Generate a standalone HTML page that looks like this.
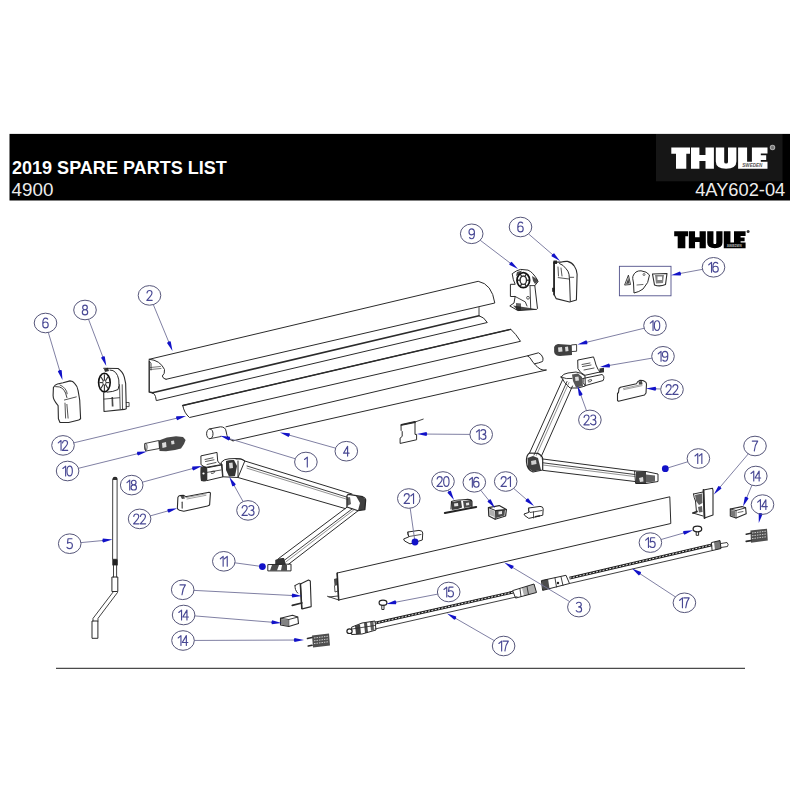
<!DOCTYPE html>
<html><head><meta charset="utf-8"><style>
html,body{margin:0;padding:0;background:#fff;}
body{width:800px;height:800px;overflow:hidden;position:relative;}
svg{position:absolute;left:0;top:0;}
text{font-family:"Liberation Sans",sans-serif;}
</style></head><body>
<svg width="800" height="800" viewBox="0 0 800 800">
<rect x="0" y="0" width="800" height="800" fill="#fff"/>

<rect x="9.5" y="133.9" width="780.5" height="66.6" fill="#000"/>
<rect x="656" y="134" width="126.5" height="47.3" fill="#161616"/>
<text x="12" y="173.5" font-size="18.05" font-weight="bold" fill="#fff">2019 SPARE PARTS LIST</text>
<text x="11.6" y="196" font-size="18.8" fill="#ececec">4900</text>
<text x="785.3" y="196.2" font-size="18.3" fill="#ececec" text-anchor="end">4AY602-04</text>
<g transform="translate(671.3,147.6) scale(1.0,1.0)"><path d="M0,0 H18.7 V6.1 H0 Z M4.7,6.1 H15.0 V21.1 H4.7 Z M19.7,0 H28.1 V21.1 H19.7 Z M34.2,0 H42.6 V21.1 H34.2 Z M28.1,7.4 H34.2 V13.5 H28.1 Z M44.5,0 H52.9 V14.5 Q52.9,16 54.8,16 Q56.7,16 56.7,14.5 V0 H65.1 V14 Q65.1,21.1 54.8,21.1 Q44.5,21.1 44.5,14 Z M66.8,0 H75.8 V21.1 H66.8 Z M75.8,14.1 H96.2 V21.1 H75.8 Z M80.6,0 H89.5 V14.1 H80.6 Z M89.5,0 H96.2 V5.8 H89.5 Z M89.5,7.6 H94.9 V12.3 H89.5 Z" fill="#fff"/><text x="71" y="19.4" font-size="4.6" font-weight="bold" font-style="italic" fill="#555" textLength="20" lengthAdjust="spacingAndGlyphs">SWEDEN</text></g>
<circle cx="772.5" cy="147.5" r="2.2" fill="#777" stroke="#aaa" stroke-width="1.1"/>
<g transform="translate(674.2,231.3) scale(0.742,0.8)"><path d="M0,0 H18.7 V6.1 H0 Z M4.7,6.1 H15.0 V21.1 H4.7 Z M19.7,0 H28.1 V21.1 H19.7 Z M34.2,0 H42.6 V21.1 H34.2 Z M28.1,7.4 H34.2 V13.5 H28.1 Z M44.5,0 H52.9 V14.5 Q52.9,16 54.8,16 Q56.7,16 56.7,14.5 V0 H65.1 V14 Q65.1,21.1 54.8,21.1 Q44.5,21.1 44.5,14 Z M66.8,0 H75.8 V21.1 H66.8 Z M75.8,14.1 H96.2 V21.1 H75.8 Z M80.6,0 H89.5 V14.1 H80.6 Z M89.5,0 H96.2 V5.8 H89.5 Z M89.5,7.6 H94.9 V12.3 H89.5 Z" fill="#000"/><text x="71" y="19.4" font-size="4.6" font-weight="bold" font-style="italic" fill="#bbb" textLength="20" lengthAdjust="spacingAndGlyphs">SWEDEN</text></g>
<circle cx="748.1" cy="231.6" r="1.5" fill="#333"/>
<path d="M149.2,359.3 L478.2,281.3 Q492,284 494.8,303 L166,379.3" stroke="#2b2b2b" stroke-width="1.0" fill="none" stroke-linejoin="round" stroke-linecap="round" />
<path d="M149.2,359.3 Q160,360 164.5,369.5 Q165,374 162.3,376 Q163,379 166,379.3" stroke="#2b2b2b" stroke-width="1.0" fill="none" stroke-linejoin="round" stroke-linecap="round" />
<path d="M150.5,367.5 L160.5,366.5 M150.5,369.5 L161,368.5" stroke="#555" stroke-width="0.8" fill="none" stroke-linejoin="round" stroke-linecap="round" />
<path d="M149.2,361 L151,363.5 L151,370" stroke="#2b2b2b" stroke-width="0.9" fill="none" stroke-linejoin="round" stroke-linecap="round" />
<path d="M149.2,361 L149.2,392 L152.5,392.8" stroke="#2b2b2b" stroke-width="1.4" fill="none" stroke-linejoin="round" stroke-linecap="round" />
<path d="M152.5,392.8 Q155,394 155.5,396.5 L156.3,400.6 L487.3,322.5 L483.5,318 L479,315.8" stroke="#2b2b2b" stroke-width="1.0" fill="none" stroke-linejoin="round" stroke-linecap="round" />
<line x1="152.5" y1="392.8" x2="479" y2="315.8" stroke="#2b2b2b" stroke-width="1.5" stroke-linecap="round"/>
<line x1="479" y1="307.5" x2="479" y2="315.5" stroke="#2b2b2b" stroke-width="0.9" stroke-linecap="round"/>
<path d="M182.8,405.5 L510.8,329.3 Q516,334 520.5,341.3 L189.5,417.5 Q184,413 182.8,405.5 Z" stroke="#2b2b2b" stroke-width="1.0" fill="none" stroke-linejoin="round" stroke-linecap="round" />
<line x1="182.8" y1="405.5" x2="510.8" y2="329.3" stroke="#2b2b2b" stroke-width="1.3" stroke-linecap="round"/>
<path d="M226,426.8 L527.5,355.8 L538.5,352.8 Q542,354.5 543,358 Q543,361 542.5,361.5 Q539,363 534.5,363.8" stroke="#2b2b2b" stroke-width="1.0" fill="none" stroke-linejoin="round" stroke-linecap="round" />
<path d="M527.5,355.8 Q530,357 531.5,360 Q533,363 534.5,363.8 Q536,366 537.5,367 Q540,369.5 543,370 L546.5,370 L233,440.8" stroke="#2b2b2b" stroke-width="1.0" fill="none" stroke-linejoin="round" stroke-linecap="round" />
<ellipse cx="209.8" cy="433.8" rx="3.2" ry="4.9" fill="none" stroke="#2b2b2b" stroke-width="1"/>
<path d="M209.8,428.9 L220.5,426.8 Q225.5,427 226,431 Q226.5,436 229,439 L233,440.8" stroke="#2b2b2b" stroke-width="1.0" fill="none" stroke-linejoin="round" stroke-linecap="round" />
<path d="M209.8,438.7 L221,436.5" stroke="#2b2b2b" stroke-width="0.9" fill="none" stroke-linejoin="round" stroke-linecap="round" />
<path d="M337.3,573 L669.8,496.8 L670.8,523.5 L338.8,600 Z" stroke="#2b2b2b" stroke-width="1.0" fill="none" stroke-linejoin="round" stroke-linecap="round" />
<path d="M337.3,573 L338.8,600" stroke="#2b2b2b" stroke-width="1.3" fill="none" stroke-linejoin="round" stroke-linecap="round" />
<path d="M327.5,596.3 L338.8,600 M329,597 L338,596" stroke="#2b2b2b" stroke-width="0.9" fill="none" stroke-linejoin="round" stroke-linecap="round" />
<path d="M334,579 L337.5,578 L337.8,585 L334.5,586 Z" fill="#1e1e1e" opacity="0.8"/>
<path d="M334.5,586 L335,592 L337.8,591" stroke="#2b2b2b" stroke-width="0.8" fill="none" stroke-linejoin="round" stroke-linecap="round" />
<line x1="375" y1="623.2" x2="513" y2="592.2" stroke="#1c1c1c" stroke-width="2.9"/>
<line x1="375" y1="623.2" x2="513" y2="592.2" stroke="#e0e0e0" stroke-width="1.0" stroke-dasharray="2.0,1.4"/>
<path d="M375,629 L517,596.8" stroke="#2b2b2b" stroke-width="0.9" fill="none" stroke-linejoin="round" stroke-linecap="round" />
<path d="M352,627 L362,623 L375,621 L376,630 L362,634 L352,634.5 Z" stroke="#2b2b2b" stroke-width="1.0" fill="none" stroke-linejoin="round" stroke-linecap="round" />
<path d="M355,625.8 L360,624.5 L361,633.8 L356,634.3 Z" fill="#1e1e1e" opacity="0.85"/>
<path d="M364,623.2 L367,622.6 L368,632.5 L365,633 Z" fill="#1e1e1e" opacity="0.8"/>
<path d="M370,622 L373.5,621.4 L374,630 L371,630.8 Z" fill="#1e1e1e" opacity="0.7"/>
<path d="M352,629 L375,625.5" stroke="#2b2b2b" stroke-width="0.8" fill="none" stroke-linejoin="round" stroke-linecap="round" />
<ellipse cx="349.5" cy="631.2" rx="2.6" ry="2.3" fill="#fff" stroke="#222" stroke-width="1.2"/>
<path d="M513,590.5 L534,584 L536.5,592.5 L516,598 Z" stroke="#2b2b2b" stroke-width="1.0" fill="none" stroke-linejoin="round" stroke-linecap="round" />
<path d="M522,588 L534,584 L536.5,592.5 L524,596 Z" fill="#1e1e1e" opacity="0.35"/>
<path d="M520,589 L521,596.5 M527,586.5 L528.5,594.5" stroke="#2b2b2b" stroke-width="0.9" fill="none" stroke-linejoin="round" stroke-linecap="round" />
<path d="M541.8,580.5 L566,575.3 L569.5,583.5 L543,590.3 Z" stroke="#2b2b2b" stroke-width="1.0" fill="none" stroke-linejoin="round" stroke-linecap="round" />
<path d="M541.8,580.5 L548,579 L549.5,588.5 L543,590.3 Z" fill="#1e1e1e" opacity="0.8"/>
<path d="M555,578 L556.5,587 M561,576.8 L563,585.5" stroke="#2b2b2b" stroke-width="0.9" fill="none" stroke-linejoin="round" stroke-linecap="round" />
<circle cx="558" cy="583" r="1.2" fill="#222"/>
<line x1="569.5" y1="578.2" x2="712" y2="544.8" stroke="#1c1c1c" stroke-width="2.9"/>
<line x1="569.5" y1="578.2" x2="712" y2="544.8" stroke="#e0e0e0" stroke-width="1.0" stroke-dasharray="2.0,1.4"/>
<path d="M569.5,583.5 L712.5,550.5" stroke="#2b2b2b" stroke-width="0.9" fill="none" stroke-linejoin="round" stroke-linecap="round" />
<path d="M711.8,542.5 L720,540.5 L721,548.5 L712.5,550.5 Z" stroke="#2b2b2b" stroke-width="1.0" fill="none" stroke-linejoin="round" stroke-linecap="round" />
<path d="M714,542 L720,540.5 L721,548.5 L715,550 Z" fill="#1e1e1e" opacity="0.6"/>
<path d="M721,543.5 L727,542.5 Q729,544.5 727.5,546.5 L721,547.5" stroke="#2b2b2b" stroke-width="0.9" fill="none" stroke-linejoin="round" stroke-linecap="round" />
<path d="M201.3,455.8 L217,452.4 L217.7,461 Q218.5,463.5 222.3,464.8 L206,468 L201.3,464.8 Z" stroke="#2b2b2b" stroke-width="1.0" fill="none" stroke-linejoin="round" stroke-linecap="round" />
<path d="M205,459.5 L213,457.8 M205.5,461.5 L214,459.8 M207,464.5 L216,462.5" stroke="#2b2b2b" stroke-width="0.8" fill="none" stroke-linejoin="round" stroke-linecap="round" />
<path d="M205,467.5 L222,464.5 L223,476.8 L207.3,480.5" stroke="#2b2b2b" stroke-width="1.0" fill="none" stroke-linejoin="round" stroke-linecap="round" />
<path d="M200.5,468 Q200,466.5 203,466.3 L206,466.5 Q207.5,468 207.3,472 L207.3,480.5 Q205,482 201,481 Q200,476 200.5,468 Z" fill="#1e1e1e" opacity="0.9"/>
<path d="M207.3,472.3 L221,470 M211,472 Q213,470.5 215,471.5 Q214,474 211.5,473.5" stroke="#2b2b2b" stroke-width="0.8" fill="none" stroke-linejoin="round" stroke-linecap="round" />
<circle cx="203.5" cy="473.5" r="1.1" fill="#fff"/>
<path d="M221.5,462 Q224,459 229,458.8 L236,458.5 Q241,458.3 244.8,461 L238,477.5 L223,476.8 Z" stroke="#2b2b2b" stroke-width="1.0" fill="none" stroke-linejoin="round" stroke-linecap="round" />
<path d="M226,461 Q230,459.5 234,460 L237,466 L235,476 L229,476.5 L226,470 Z" fill="#1e1e1e" opacity="0.9"/>
<path d="M229,463 L232.5,462.5 L233,468 L229.5,468.5 Z" fill="#fff" opacity="0.8"/>
<path d="M236,459 Q243,458 244.8,461 M238,461 L238,477.5" stroke="#2b2b2b" stroke-width="1.0" fill="none" stroke-linejoin="round" stroke-linecap="round" />
<path d="M244.8,461 L352,494" stroke="#2b2b2b" stroke-width="1.0" fill="none" stroke-linejoin="round" stroke-linecap="round" />
<path d="M238,477.5 L345.3,508.6" stroke="#2b2b2b" stroke-width="1.0" fill="none" stroke-linejoin="round" stroke-linecap="round" />
<path d="M247,466 L348,497.5" stroke="#2b2b2b" stroke-width="0.9" fill="none" stroke-linejoin="round" stroke-linecap="round" />
<path d="M247,468.2 L348,499.6" stroke="#666" stroke-width="0.7" fill="none" stroke-linejoin="round" stroke-linecap="round" />
<path d="M346.9,496 Q347.5,494.4 348.6,494.4 L362.6,496.7 Q365.7,498 365.7,500 L364.9,509.6 L358.1,510.75 L346.9,507 Z" stroke="#2b2b2b" stroke-width="1.2" fill="none" stroke-linejoin="round" stroke-linecap="round" />
<path d="M348,495 L356,496 L360,503 L358,510.5 L362,510 L364.9,509.6 L365.7,500 L362.6,496.7 Z" fill="#1e1e1e" opacity="0.85"/>
<path d="M347,498 L350,497 L351,504 L347,506 Z" fill="#1e1e1e" opacity="0.7"/>
<path d="M347,507.2 L278.6,558.5" stroke="#2b2b2b" stroke-width="1.0" fill="none" stroke-linejoin="round" stroke-linecap="round" />
<path d="M358.1,510.75 L288.75,564.1" stroke="#2b2b2b" stroke-width="1.0" fill="none" stroke-linejoin="round" stroke-linecap="round" />
<path d="M352,509 L284,560.5" stroke="#2b2b2b" stroke-width="0.9" fill="none" stroke-linejoin="round" stroke-linecap="round" />
<path d="M354,509.8 L286,561.8" stroke="#666" stroke-width="0.7" fill="none" stroke-linejoin="round" stroke-linecap="round" />
<path d="M268.2,564.6 L291,564.1 L291,570.9 L268.2,570.9 Z" stroke="#2b2b2b" stroke-width="1.0" fill="none" stroke-linejoin="round" stroke-linecap="round" />
<path d="M275.25,560 Q279,557.5 284,558 L286,564.7 L275.25,564.7 Z" fill="#1e1e1e" opacity="0.9"/>
<path d="M272,565 L279,565 L277,570.5 L270,570.5 Z M282,565 L287,565 L287,570.5 L281,570.5 Z" fill="#1e1e1e" opacity="0.8"/>
<path d="M578.1,360 L593.5,356.9 Q595,361 596,365 Q598,370 600,372 L585,375.3 Q580,373 578.1,369 Z" stroke="#2b2b2b" stroke-width="1.0" fill="none" stroke-linejoin="round" stroke-linecap="round" />
<path d="M582,364.5 L590,363 M582.5,366.5 L591,365 M584,370 L594,368" stroke="#2b2b2b" stroke-width="0.8" fill="none" stroke-linejoin="round" stroke-linecap="round" />
<path d="M599.5,368.5 L604,367.8 L604,372.3 L599.5,373 Z" fill="#1e1e1e" opacity="0.9"/>
<path d="M583,378.5 L602,374.5 Q605,376 603.2,380.5 L585,385.7 Q582.2,383 583,378.5 Z" stroke="#2b2b2b" stroke-width="1.0" fill="none" stroke-linejoin="round" stroke-linecap="round" />
<path d="M588,380.5 Q590,379 592,380 Q591,382.5 588.5,382" stroke="#2b2b2b" stroke-width="0.8" fill="none" stroke-linejoin="round" stroke-linecap="round" />
<path d="M561.2,377 Q563,373.5 568,373 L576,372 Q581,372.5 585,376 L585.3,386 L578,388 L570,388 Q564,383 561.2,377 Z" stroke="#2b2b2b" stroke-width="1.0" fill="none" stroke-linejoin="round" stroke-linecap="round" />
<path d="M572,374.5 L578,373.5 L582,377 L583,386 L576,387.5 L573,381 Z" fill="#1e1e1e" opacity="0.75"/>
<path d="M575,377 L578.5,376.5 L579,380.5 L575.5,381 Z" fill="#fff" opacity="0.8"/>
<path d="M561.2,377 Q566,379.5 572,378.5" stroke="#2b2b2b" stroke-width="0.9" fill="none" stroke-linejoin="round" stroke-linecap="round" />
<path d="M562.9,379 L529.5,453.1" stroke="#2b2b2b" stroke-width="1.0" fill="none" stroke-linejoin="round" stroke-linecap="round" />
<path d="M572.5,386 L541.1,456.8" stroke="#2b2b2b" stroke-width="1.0" fill="none" stroke-linejoin="round" stroke-linecap="round" />
<path d="M567,381.5 L534,455" stroke="#2b2b2b" stroke-width="0.9" fill="none" stroke-linejoin="round" stroke-linecap="round" />
<path d="M569,382.5 L536.3,455.5" stroke="#666" stroke-width="0.7" fill="none" stroke-linejoin="round" stroke-linecap="round" />
<path d="M526.5,462 Q526.1,455 529.5,453 L538,453.4 Q542.7,456 542.7,459 L542.7,470 L533,472 Q527,470 526.5,462 Z" stroke="#2b2b2b" stroke-width="1.2" fill="none" stroke-linejoin="round" stroke-linecap="round" />
<path d="M527.5,458 L533,456 L538,458 L541,470 L533,471.5 L528,468 Z" fill="#1e1e1e" opacity="0.85"/>
<path d="M531,461 L536,460 L536.5,464 L531.5,465 Z" fill="#fff" opacity="0.75"/>
<path d="M542.1,458.9 L635,471" stroke="#2b2b2b" stroke-width="1.0" fill="none" stroke-linejoin="round" stroke-linecap="round" />
<path d="M543.2,470.4 L635,481.5" stroke="#2b2b2b" stroke-width="1.0" fill="none" stroke-linejoin="round" stroke-linecap="round" />
<path d="M543,462.8 L635,474.5" stroke="#2b2b2b" stroke-width="0.9" fill="none" stroke-linejoin="round" stroke-linecap="round" />
<path d="M543,465 L635,476.6" stroke="#666" stroke-width="0.7" fill="none" stroke-linejoin="round" stroke-linecap="round" />
<path d="M635,471 L646,471.5 L658,474 L658,481.5 L646,483.5 L636,483.5 Z" stroke="#2b2b2b" stroke-width="1.0" fill="none" stroke-linejoin="round" stroke-linecap="round" />
<path d="M636,471.5 L646,471.5 L646,483.5 L636,483.5 Z" fill="#1e1e1e" opacity="0.85"/>
<path d="M646,474.5 L655,475.5 L655,481.5 L646,482.5 Z" fill="#1e1e1e" opacity="0.7"/>
<path d="M639,478 L643,477 L643.5,481.5 L640,482 Z" fill="#fff" opacity="0.8"/>
<path d="M113,478.4 Q115,476.5 117.1,478.4 L117.1,559.3 L113,559.3 Z" stroke="#2b2b2b" stroke-width="0.9" fill="none" stroke-linejoin="round" stroke-linecap="round" />
<path d="M113,477.5 Q115,476 117.1,477.5 L117.1,480 L113,480 Z" fill="#1e1e1e" opacity="0.9"/>
<rect x="112.3" y="559.3" width="5.5" height="6.1" fill="#222"/>
<path d="M113.5,565.4 L113.5,577 M116.6,565.4 L116.6,577" stroke="#2b2b2b" stroke-width="0.9" fill="none" stroke-linejoin="round" stroke-linecap="round" />
<path d="M112.3,577 L117.8,577 L117.8,591.5 L112.3,591.5 Z" stroke="#2b2b2b" stroke-width="1.0" fill="none" stroke-linejoin="round" stroke-linecap="round" />
<path d="M113.5,591.5 L93,618.4 L93,621 M117.5,592.5 L98,618.4 L98,621" stroke="#2b2b2b" stroke-width="0.9" fill="none" stroke-linejoin="round" stroke-linecap="round" />
<path d="M92.4,621 L97.9,621 L97.9,638.3 L92.4,638.3 Z" stroke="#2b2b2b" stroke-width="1.0" fill="none" stroke-linejoin="round" stroke-linecap="round" />
<path d="M58.1,405.6 Q53,400 53.1,395.6 L53.4,387.5 Q55,384.5 57.5,384 L63.1,382.8 L70,380.9 Q73,381 74.4,383.1 Q77.5,386 78.1,390.6 L79.7,400 L80.6,418.75 L78.75,420 L68.75,422.5 L60,422.5 L58.4,418.75 Z" stroke="#2b2b2b" stroke-width="1.1" fill="none" stroke-linejoin="round" stroke-linecap="round" />
<path d="M55.6,386.6 Q60,386.5 61.9,388.1 Q64.5,390 65.6,393.1 L66.9,397.5" stroke="#2b2b2b" stroke-width="0.9" fill="none" stroke-linejoin="round" stroke-linecap="round" />
<path d="M60,385 Q63,386 65,388.75 Q67,391 67.2,393.75" stroke="#2b2b2b" stroke-width="0.8" fill="none" stroke-linejoin="round" stroke-linecap="round" />
<path d="M64.4,400 L76.25,396.9 M65,403.1 L65.6,418.1 M66.9,404.4 L68.1,418.1" stroke="#2b2b2b" stroke-width="0.8" fill="none" stroke-linejoin="round" stroke-linecap="round" />
<path d="M103.7,368.2 L118.1,368.5 Q123,372 124.3,377.1 L125.65,383.3 L126.3,408.7 L124.3,409.4 L104,411.45 L103.7,392.9" stroke="#2b2b2b" stroke-width="1.1" fill="none" stroke-linejoin="round" stroke-linecap="round" />
<path d="M110,370 Q117,370 118.8,379.9 Q119.5,386 118.1,389.5 Q113,392 107.1,392.2" stroke="#2b2b2b" stroke-width="1.0" fill="none" stroke-linejoin="round" stroke-linecap="round" />
<path d="M104,399.1 L119.5,397.7 M119.5,384.7 L120.2,408.7 M122.2,384.7 L122.5,408.7 M126.3,402.5 L129.1,402.5 L129.1,406.6 L126.3,406.6" stroke="#2b2b2b" stroke-width="0.8" fill="none" stroke-linejoin="round" stroke-linecap="round" />
<ellipse cx="104.4" cy="382.6" rx="5.8" ry="9.3" fill="#fff" stroke="#111" stroke-width="1.6"/>
<g stroke="#333" stroke-width="1.1"><line x1="104.4" y1="382.6" x2="109.40" y2="382.60"/><line x1="104.4" y1="382.6" x2="107.94" y2="388.54"/><line x1="104.4" y1="382.6" x2="104.40" y2="391.00"/><line x1="104.4" y1="382.6" x2="100.86" y2="388.54"/><line x1="104.4" y1="382.6" x2="99.40" y2="382.60"/><line x1="104.4" y1="382.6" x2="100.86" y2="376.66"/><line x1="104.4" y1="382.6" x2="104.40" y2="374.20"/><line x1="104.4" y1="382.6" x2="107.94" y2="376.66"/></g>
<ellipse cx="104.4" cy="382.6" rx="1.6" ry="2.4" fill="#fff" stroke="#333" stroke-width="0.8"/>
<path d="M104,369 L108,367.8 L109,371 L105,372 Z" fill="#1e1e1e" opacity="0.9"/>
<path d="M111.5,397 L113,397 L113.5,406.6 L111.8,406.6 Z" fill="#1e1e1e" opacity="0.8"/>
<path d="M512.5,273.5 Q516,270.5 520.6,269.4 L528,270.1 Q531,271.5 532.7,273.5 Q535,276 536.8,278.9 L538.1,281.6 L534.8,285.6 L537.5,308.6 L536.8,309.3 L517.9,310.6 L509.8,305.9 L514,303 L515.2,296.5 L510.4,296.5 L510.4,284.3 L515.2,284.3 L513.5,280 Z" stroke="#2b2b2b" stroke-width="1.0" fill="none" stroke-linejoin="round" stroke-linecap="round" />
<ellipse cx="523.3" cy="280.2" rx="6.3" ry="7.5" fill="none" stroke="#111" stroke-width="1.8"/>
<ellipse cx="523.3" cy="280.2" rx="3.2" ry="4.2" fill="none" stroke="#333" stroke-width="1.4"/>
<g stroke="#222" stroke-width="1.2"><line x1="526.50" y1="280.20" x2="529.60" y2="280.20"/><line x1="524.90" y1="283.84" x2="526.45" y2="286.70"/><line x1="521.70" y1="283.84" x2="520.15" y2="286.70"/><line x1="520.10" y1="280.20" x2="517.00" y2="280.20"/><line x1="521.70" y1="276.56" x2="520.15" y2="273.70"/><line x1="524.90" y1="276.56" x2="526.45" y2="273.70"/></g>
<path d="M513,305.5 L530,308 L536.8,309.3 L517.9,310.6 Z" fill="#1e1e1e" opacity="0.8"/>
<path d="M515.2,296.5 L525.3,301.9 L527,306 M530,285.6 L530.7,308.6 M534.8,285.6 L530,285.6" stroke="#2b2b2b" stroke-width="0.9" fill="none" stroke-linejoin="round" stroke-linecap="round" />
<circle cx="528" cy="297.8" r="1.4" fill="none" stroke="#333" stroke-width="0.8"/>
<path d="M516,303 L521,303.5 L521,310 L516,310 Z" fill="#1e1e1e" opacity="0.7"/>
<path d="M517,272 L522,270.5 L520,274 L516,276 Z" fill="#1e1e1e" opacity="0.8"/>
<path d="M532,276 L536.8,279 L538,281.6 L535,284 L533,281 Z" fill="#1e1e1e" opacity="0.8"/>
<path d="M554.1,262.1 L561.5,262.1 Q564,261.2 567.6,261.4 Q572,262.5 574.4,266.2 Q577,270 577.1,274.3 L576.4,300 L569.6,302 L556.1,298.6 L554.1,294.5 Z" stroke="#2b2b2b" stroke-width="1.1" fill="none" stroke-linejoin="round" stroke-linecap="round" />
<path d="M554.1,262.1 L554.1,294.5" stroke="#2b2b2b" stroke-width="1.8" fill="none" stroke-linejoin="round" stroke-linecap="round" />
<path d="M559.5,263.5 Q563.5,265 565.6,268.2 Q568.5,271 569,274.3 L569.6,281 L570.3,301.3" stroke="#2b2b2b" stroke-width="1.0" fill="none" stroke-linejoin="round" stroke-linecap="round" />
<path d="M558.2,277.6 L569,279 M570.3,277.3 L573.7,277.3 M558,267 L558.5,276 M561,268 L562,276" stroke="#2b2b2b" stroke-width="0.8" fill="none" stroke-linejoin="round" stroke-linecap="round" />
<path d="M552.1,287.8 L554.8,287.8 L554.8,291.8 L552.1,291.8 Z" fill="#1e1e1e" opacity="0.9"/>
<path d="M553.5,260.5 L557,260.5 L557,264 L553.5,264 Z" fill="#1e1e1e" opacity="0.9"/>
<rect x="619.4" y="266.3" width="51.6" height="29.5" fill="none" stroke="#50508a" stroke-width="0.9"/>
<path d="M625,285 L630.5,284.5 L628.5,275.5 Z" stroke="#2b2b2b" stroke-width="0.9" fill="none" stroke-linejoin="round" stroke-linecap="round" />
<path d="M626,284 L629.5,283.5 L628.3,278 Z" fill="#1e1e1e" opacity="0.8"/>
<path d="M633,276 Q635,270.5 641,270.8 Q647,271.5 649.5,275 Q649,283 643,289 Q639,292 634,293 L633.5,283 L632.8,279 Z" stroke="#2b2b2b" stroke-width="1.0" fill="none" stroke-linejoin="round" stroke-linecap="round" />
<path d="M637,285 L643,284.5" stroke="#2b2b2b" stroke-width="0.7" fill="none" stroke-linejoin="round" stroke-linecap="round" />
<circle cx="644" cy="274.5" r="1" fill="none" stroke="#333" stroke-width="0.7"/>
<path d="M652.5,274 L667,273.5 L665.5,284.5 Q660,287 654.5,285 Z" stroke="#2b2b2b" stroke-width="1.1" fill="none" stroke-linejoin="round" stroke-linecap="round" />
<path d="M655,275 L664,275 L663,283 L656,283.5 Z" fill="#1e1e1e" opacity="0.55"/>
<rect x="657.5" y="276.5" width="4.5" height="3.5" fill="#fff"/>
<path d="M145,443.5 L158.8,440.5 L159.5,448.5 L146,451 Z" stroke="#2b2b2b" stroke-width="0.9" fill="none" stroke-linejoin="round" stroke-linecap="round" />
<ellipse cx="145.8" cy="447" rx="1.3" ry="3.6" fill="none" stroke="#333" stroke-width="0.8"/>
<path d="M158.8,440.5 L167,437.5 L176,436.3 L183,437 L185.6,440 L184,444 L181,448.5 L175,450 L166,451.3 L159.5,451 Z" fill="#1e1e1e" opacity="0.82"/>
<path d="M162,443 L166,442 L166.5,447 L162.5,448 Z M171,441 L174,440.5 L174.5,444 L171.5,444.5 Z" fill="#fff" opacity="0.8"/>
<path d="M554.1,347 Q555,344.5 558,344.1 L571.75,344.9 L572,355 L560,356.1 Q555,356 554.1,352 Z" fill="#1e1e1e" opacity="0.85"/>
<path d="M558,347.5 L562,347 L562.5,351.5 L558.5,352 Z M565,347 L568,346.5 L568.5,351 L565.5,351.5 Z" fill="#fff" opacity="0.8"/>
<path d="M571.75,344.9 L576.6,344.5 L576.6,351.25 L572,351.5" stroke="#2b2b2b" stroke-width="0.9" fill="none" stroke-linejoin="round" stroke-linecap="round" />
<path d="M177.9,497.4 Q178.5,495.8 180,495.5 L183.3,495.2 Q185,495.5 185.4,496.8 L209.1,492.3 Q210.6,492.5 210.4,493.6 L209.6,504.9 L207.5,506 L183.8,511.3 L179.5,510.3 Q177,509 177.4,507.6 Z" stroke="#2b2b2b" stroke-width="1.1" fill="none" stroke-linejoin="round" stroke-linecap="round" />
<path d="M186.5,497.5 L206,493.8 M187,499 L206,495.3" stroke="#777" stroke-width="0.7" fill="none" stroke-linejoin="round" stroke-linecap="round" />
<path d="M182.2,502.2 L182.2,508.1" stroke="#555" stroke-width="1.3" fill="none" stroke-linejoin="round" stroke-linecap="round" />
<path d="M180,495.5 L183.5,495.2 L185,498.5 L182,499 Z" fill="#1e1e1e" opacity="0.8"/>
<path d="M617.5,400.5 L617.5,393.5 L618.5,392.5 L619,388.5 L620.5,387.25 L636.5,383.75 Q637,381.5 640,380.25 Q643.5,380.5 644,381 Q646.5,382 646.5,384 L646,393 L644.5,395 L618.5,401.25 Z" stroke="#2b2b2b" stroke-width="1.1" fill="none" stroke-linejoin="round" stroke-linecap="round" />
<path d="M623.5,388.5 L642,384.5 M623.8,389.6 L642,385.7" stroke="#777" stroke-width="0.7" fill="none" stroke-linejoin="round" stroke-linecap="round" />
<path d="M638.5,381.5 L642,381 L642.5,384 L639,384.5 Z" fill="#1e1e1e" opacity="0.8"/>
<path d="M401.4,424.9 L415,422 L415,434.4 L416.6,434.4 L416.6,439.75 L400.1,443.45 L400.1,438.1 L402.2,436.4 L402.2,431.5 L401.4,430.7 Z" stroke="#2b2b2b" stroke-width="1.0" fill="none" stroke-linejoin="round" stroke-linecap="round" />
<path d="M401.4,424.9 L415,422" stroke="#2b2b2b" stroke-width="1.8" fill="none" stroke-linejoin="round" stroke-linecap="round" />
<path d="M415,422 L423.2,419.1" stroke="#2b2b2b" stroke-width="0.9" fill="none" stroke-linejoin="round" stroke-linecap="round" />
<path d="M444.85,513.1 L476.2,506.9" stroke="#222" stroke-width="2.0" fill="none" stroke-linejoin="round" stroke-linecap="round" />
<path d="M451,509 L451.5,501.5 Q455,499.8 460,500 L466,499.5 Q471,499 472,501.5 L472,507.5" stroke="#2b2b2b" stroke-width="1.1" fill="none" stroke-linejoin="round" stroke-linecap="round" />
<path d="M451.5,502 L461,500.5 L462,507.5 L458,509 L452,510 Z" fill="#1e1e1e" opacity="0.85"/>
<path d="M463,501 L471.5,500 L472,506.5 L464,508 Z" fill="#1e1e1e" opacity="0.8"/>
<path d="M454,503.5 L458,503 L458.3,506 L454.3,506.6 Z M466,503 L469,502.6 L469.2,505 L466.2,505.4 Z" fill="#fff" opacity="0.85"/>
<path d="M488.4,507.6 L499.2,505.6 L506.4,509.6 L505.6,516 L495.2,519.2 L488.8,516 Z" stroke="#2b2b2b" stroke-width="1.2" fill="none" stroke-linejoin="round" stroke-linecap="round" />
<path d="M488.4,507.6 L495.5,510.5 L506.4,509.6 M495.5,510.5 L495.2,519.2" stroke="#2b2b2b" stroke-width="1.0" fill="none" stroke-linejoin="round" stroke-linecap="round" />
<path d="M496,510 L505,509.5 L504.5,515.5 L496,518 Z" fill="#1e1e1e" opacity="0.8"/>
<path d="M489.5,509 L494.5,511 L494.5,517 L489.5,515 Z" fill="#1e1e1e" opacity="0.35"/>
<path d="M498.5,511.5 L502,511 L502,514 L498.5,514.6 Z" fill="#fff" opacity="0.85"/>
<path d="M528.8,508 L540,506.4 Q543.2,506.5 543.2,508.8 L542.8,515.2 L528.8,518.4 L524.8,515.6 L524,514 L528.5,512.5 Z" stroke="#2b2b2b" stroke-width="1.0" fill="none" stroke-linejoin="round" stroke-linecap="round" />
<path d="M528.8,508 Q528,511 530,512.5 L542,510.5 M533.5,511.8 L533.5,518" stroke="#2b2b2b" stroke-width="0.8" fill="none" stroke-linejoin="round" stroke-linecap="round" />
<path d="M535,516 L540,515 L540,516.5 L535,517.5 Z" fill="#1e1e1e" opacity="0.8"/>
<path d="M408,532 L419,530.4 Q422.75,530.5 422.75,533 L422.3,540 L410,543.9 L404.6,541 L403.6,539 L408.5,537 Z" stroke="#2b2b2b" stroke-width="1.0" fill="none" stroke-linejoin="round" stroke-linecap="round" />
<path d="M408,532 Q407,535 409,536.5 L421,534.5" stroke="#2b2b2b" stroke-width="0.8" fill="none" stroke-linejoin="round" stroke-linecap="round" />
<path d="M703.5,490 L712.5,488.25 L713,490.5 L713,515 L704.5,518 Z" stroke="#2b2b2b" stroke-width="1.1" fill="none" stroke-linejoin="round" stroke-linecap="round" />
<path d="M703.5,490 L704.5,518" stroke="#2b2b2b" stroke-width="1.8" fill="none" stroke-linejoin="round" stroke-linecap="round" />
<path d="M693.5,494 L703,492 M693.5,494 Q694,498 695.5,501 L696.5,512 M693,513 L703,516" stroke="#2b2b2b" stroke-width="1.0" fill="none" stroke-linejoin="round" stroke-linecap="round" />
<path d="M695,495 L702,493.5 L702.5,503 L699,505 L696,501 Z" fill="#1e1e1e" opacity="0.7"/>
<path d="M698,507 L702,506 L702.5,512 L699,512.5 Z" fill="#1e1e1e" opacity="0.7"/>
<path d="M693,513 L697,511.5" stroke="#2b2b2b" stroke-width="1.8" fill="none" stroke-linejoin="round" stroke-linecap="round" />
<path d="M300.4,584.1 L308.5,580 L310.3,581 L311.2,606.6 L302.2,608.9 L301.8,608.4 Z" stroke="#2b2b2b" stroke-width="1.1" fill="none" stroke-linejoin="round" stroke-linecap="round" />
<path d="M300.4,584.1 L301.8,608.4" stroke="#2b2b2b" stroke-width="1.5" fill="none" stroke-linejoin="round" stroke-linecap="round" />
<path d="M295,585.5 L299.5,583.2 L300.4,584.1 M295,585.5 Q295,588 295.5,589.5 Q296.5,592 297.7,593.1" stroke="#2b2b2b" stroke-width="1.0" fill="none" stroke-linejoin="round" stroke-linecap="round" />
<path d="M292.3,605.3 L301.8,603" stroke="#2b2b2b" stroke-width="1.8" fill="none" stroke-linejoin="round" stroke-linecap="round" />
<path d="M730.3,509 L742,506.6 L745.6,507.8 L746.2,513.8 L736,518 L730.3,516 Z" stroke="#2b2b2b" stroke-width="1.1" fill="none" stroke-linejoin="round" stroke-linecap="round" />
<path d="M730.3,509 L736,510.5 L745.6,507.8 M736,510.5 L736,518" stroke="#2b2b2b" stroke-width="0.9" fill="none" stroke-linejoin="round" stroke-linecap="round" />
<path d="M731,510 L735,511 L735,517 L731,515.5 Z" fill="#1e1e1e" opacity="0.6"/>
<path d="M738,512.5 L743,511.5" stroke="#2b2b2b" stroke-width="0.7" fill="none" stroke-linejoin="round" stroke-linecap="round" />
<path d="M750.4,530.5 L767,528.8 L767.8,540.5 L751,542.8 Z" fill="#1e1e1e" opacity="0.78"/>
<g stroke="#fff" stroke-width="0.7" stroke-dasharray="1.5,1"><line x1="752" y1="533.0" x2="766" y2="531.2"/><line x1="752" y1="535.8" x2="766" y2="534.0"/><line x1="752" y1="538.6" x2="766" y2="536.8000000000001"/></g>
<path d="M746.2,534.2 L751,533.2 M746.2,541.4 L751,540.6" stroke="#2b2b2b" stroke-width="1.6" fill="none" stroke-linejoin="round" stroke-linecap="round" />
<path d="M280.5,618.25 L292.5,615.25 L297.75,617.1 L298.5,623.5 L288.75,626.5 L280.5,625 Z" stroke="#2b2b2b" stroke-width="1.1" fill="none" stroke-linejoin="round" stroke-linecap="round" />
<path d="M280.5,618.25 L288.75,619.5 L297.75,617.1 M288.75,619.5 L288.75,626.5" stroke="#2b2b2b" stroke-width="0.9" fill="none" stroke-linejoin="round" stroke-linecap="round" />
<path d="M281,619 L288,620 L288,626 L281,624.5 Z" fill="#1e1e1e" opacity="0.55"/>
<path d="M312,635.5 L329,633.6 L330,645.5 L313,647.5 Z" fill="#1e1e1e" opacity="0.78"/>
<g stroke="#fff" stroke-width="0.7" stroke-dasharray="1.5,1"><line x1="314" y1="638.0" x2="328" y2="636.2"/><line x1="314" y1="640.8" x2="328" y2="639.0"/><line x1="314" y1="643.6" x2="328" y2="641.8000000000001"/></g>
<path d="M307.5,638.5 L312,637.5 M308.25,646 L312,645.3" stroke="#2b2b2b" stroke-width="1.6" fill="none" stroke-linejoin="round" stroke-linecap="round" />
<ellipse cx="697.4" cy="529" rx="4.3" ry="2.8" fill="#fff" stroke="#222" stroke-width="1.3"/>
<path d="M696.2,531.5 L696.2,535.3 L698.6,535.3 L698.6,531.5" stroke="#2b2b2b" stroke-width="1.0" fill="none" stroke-linejoin="round" stroke-linecap="round" />
<ellipse cx="383" cy="602.8" rx="3.9" ry="2.6" fill="#fff" stroke="#222" stroke-width="1.2"/>
<path d="M381.8,605 L381.8,609.5 L384,609.5 L384,605" stroke="#2b2b2b" stroke-width="1.0" fill="none" stroke-linejoin="round" stroke-linecap="round" />
<line x1="480.20" y1="240.26" x2="510.44" y2="263.25" stroke="#727298" stroke-width="0.9"/>
<path d="M518.00,269.00 L509.23,264.84 Q509.24,262.34 511.65,261.66 Z" fill="#1212c8"/>
<ellipse cx="471.7" cy="233.8" rx="11.3" ry="9.8" fill="none" stroke="#56567a" stroke-width="1.0"/>
<path transform="translate(469.00,228.90)" d="M0.5,8.8 C1,9.5 1.8,9.8 2.6,9.8 C4.4,9.8 5.4,8 5.4,4.8 L5.4,3.2 C5.4,1.2 4.3,0 2.7,0 C1.1,0 0,1.2 0,3 C0,4.8 1.1,5.9 2.7,5.9 C3.9,5.9 4.9,5.2 5.4,4.2" fill="none" stroke="#484894" stroke-width="1.15" stroke-linecap="round" stroke-linejoin="round"/>
<line x1="528.52" y1="233.90" x2="552.80" y2="254.80" stroke="#727298" stroke-width="0.9"/>
<path d="M560.00,261.00 L551.50,256.32 Q551.66,253.82 554.10,253.29 Z" fill="#1212c8"/>
<ellipse cx="520.5" cy="227.0" rx="11.3" ry="9.8" fill="none" stroke="#56567a" stroke-width="1.0"/>
<path transform="translate(517.80,222.10)" d="M4.9,1 C4.4,0.3 3.6,0 2.8,0 C1,0 0,1.8 0,5 L0,6.6 C0,8.6 1.1,9.8 2.7,9.8 C4.3,9.8 5.4,8.6 5.4,6.8 C5.4,5 4.3,3.9 2.7,3.9 C1.5,3.9 0.5,4.6 0,5.6" fill="none" stroke="#484894" stroke-width="1.15" stroke-linecap="round" stroke-linejoin="round"/>
<line x1="702.45" y1="269.35" x2="680.34" y2="273.46" stroke="#727298" stroke-width="0.9"/>
<path d="M671.00,275.20 L679.97,271.50 Q681.81,273.19 680.71,275.43 Z" fill="#1212c8"/>
<ellipse cx="713.5" cy="267.3" rx="11.3" ry="9.8" fill="none" stroke="#56567a" stroke-width="1.0"/>
<path transform="translate(708.75,262.40)" d="M0,2.4 L2.8,0 L2.8,9.8" fill="none" stroke="#484894" stroke-width="1.15" stroke-linecap="round" stroke-linejoin="round"/><path transform="translate(712.85,262.40)" d="M4.9,1 C4.4,0.3 3.6,0 2.8,0 C1,0 0,1.8 0,5 L0,6.6 C0,8.6 1.1,9.8 2.7,9.8 C4.3,9.8 5.4,8.6 5.4,6.8 C5.4,5 4.3,3.9 2.7,3.9 C1.5,3.9 0.5,4.6 0,5.6" fill="none" stroke="#484894" stroke-width="1.15" stroke-linecap="round" stroke-linejoin="round"/>
<line x1="153.32" y1="304.62" x2="168.87" y2="342.22" stroke="#727298" stroke-width="0.9"/>
<path d="M172.50,351.00 L167.02,342.99 Q168.30,340.84 170.72,341.46 Z" fill="#1212c8"/>
<ellipse cx="149.5" cy="295.4" rx="11.3" ry="9.8" fill="none" stroke="#56567a" stroke-width="1.0"/>
<path transform="translate(146.80,290.50)" d="M0.2,2.4 C0.4,0.8 1.4,0 2.7,0 C4.2,0 5.2,1 5.2,2.6 C5.2,4 4.4,5 3.3,6.2 L0,9.8 L5.4,9.8" fill="none" stroke="#484894" stroke-width="1.15" stroke-linecap="round" stroke-linejoin="round"/>
<line x1="88.54" y1="319.31" x2="102.92" y2="357.12" stroke="#727298" stroke-width="0.9"/>
<path d="M106.30,366.00 L101.05,357.83 Q102.39,355.72 104.79,356.41 Z" fill="#1212c8"/>
<ellipse cx="85.0" cy="310.0" rx="11.3" ry="9.8" fill="none" stroke="#56567a" stroke-width="1.0"/>
<path transform="translate(82.30,305.10)" d="M2.7,4.6 C1.2,4.6 0.4,3.7 0.4,2.3 C0.4,0.9 1.3,0 2.7,0 C4.1,0 5,0.9 5,2.3 C5,3.7 4.2,4.6 2.7,4.6 C1,4.6 0,5.6 0,7.2 C0,8.8 1.1,9.8 2.7,9.8 C4.3,9.8 5.4,8.8 5.4,7.2 C5.4,5.6 4.4,4.6 2.7,4.6 Z" fill="none" stroke="#484894" stroke-width="1.15" stroke-linecap="round" stroke-linejoin="round"/>
<line x1="48.33" y1="332.49" x2="59.78" y2="370.90" stroke="#727298" stroke-width="0.9"/>
<path d="M62.50,380.00 L57.87,371.47 Q59.36,369.46 61.70,370.32 Z" fill="#1212c8"/>
<ellipse cx="45.5" cy="323.0" rx="11.3" ry="9.8" fill="none" stroke="#56567a" stroke-width="1.0"/>
<path transform="translate(42.80,318.10)" d="M4.9,1 C4.4,0.3 3.6,0 2.8,0 C1,0 0,1.8 0,5 L0,6.6 C0,8.6 1.1,9.8 2.7,9.8 C4.3,9.8 5.4,8.6 5.4,6.8 C5.4,5 4.3,3.9 2.7,3.9 C1.5,3.9 0.5,4.6 0,5.6" fill="none" stroke="#484894" stroke-width="1.15" stroke-linecap="round" stroke-linejoin="round"/>
<line x1="644.12" y1="328.25" x2="586.73" y2="342.25" stroke="#727298" stroke-width="0.9"/>
<path d="M577.50,344.50 L586.26,340.31 Q588.19,341.89 587.20,344.19 Z" fill="#1212c8"/>
<ellipse cx="655.0" cy="325.6" rx="11.3" ry="9.8" fill="none" stroke="#56567a" stroke-width="1.0"/>
<path transform="translate(650.25,320.70)" d="M0,2.4 L2.8,0 L2.8,9.8" fill="none" stroke="#484894" stroke-width="1.15" stroke-linecap="round" stroke-linejoin="round"/><path transform="translate(654.35,320.70)" d="M2.7,0 C0.5,0 0,2.5 0,4.9 C0,7.3 0.5,9.8 2.7,9.8 C4.9,9.8 5.4,7.3 5.4,4.9 C5.4,2.5 4.9,0 2.7,0 Z" fill="none" stroke="#484894" stroke-width="1.15" stroke-linecap="round" stroke-linejoin="round"/>
<line x1="651.91" y1="358.18" x2="609.37" y2="365.41" stroke="#727298" stroke-width="0.9"/>
<path d="M600.00,367.00 L609.03,363.44 Q610.84,365.16 609.70,367.38 Z" fill="#1212c8"/>
<ellipse cx="663.0" cy="356.3" rx="11.3" ry="9.8" fill="none" stroke="#56567a" stroke-width="1.0"/>
<path transform="translate(658.25,351.40)" d="M0,2.4 L2.8,0 L2.8,9.8" fill="none" stroke="#484894" stroke-width="1.15" stroke-linecap="round" stroke-linejoin="round"/><path transform="translate(662.35,351.40)" d="M0.5,8.8 C1,9.5 1.8,9.8 2.6,9.8 C4.4,9.8 5.4,8 5.4,4.8 L5.4,3.2 C5.4,1.2 4.3,0 2.7,0 C1.1,0 0,1.2 0,3 C0,4.8 1.1,5.9 2.7,5.9 C3.9,5.9 4.9,5.2 5.4,4.2" fill="none" stroke="#484894" stroke-width="1.15" stroke-linecap="round" stroke-linejoin="round"/>
<line x1="660.71" y1="389.02" x2="655.49" y2="388.80" stroke="#727298" stroke-width="0.9"/>
<path d="M646.00,388.40 L655.58,386.80 Q656.99,388.86 655.41,390.80 Z" fill="#1212c8"/>
<ellipse cx="672.0" cy="389.5" rx="11.3" ry="9.8" fill="none" stroke="#56567a" stroke-width="1.0"/>
<path transform="translate(665.95,384.60)" d="M0.2,2.4 C0.4,0.8 1.4,0 2.7,0 C4.2,0 5.2,1 5.2,2.6 C5.2,4 4.4,5 3.3,6.2 L0,9.8 L5.4,9.8" fill="none" stroke="#484894" stroke-width="1.15" stroke-linecap="round" stroke-linejoin="round"/><path transform="translate(672.65,384.60)" d="M0.2,2.4 C0.4,0.8 1.4,0 2.7,0 C4.2,0 5.2,1 5.2,2.6 C5.2,4 4.4,5 3.3,6.2 L0,9.8 L5.4,9.8" fill="none" stroke="#484894" stroke-width="1.15" stroke-linecap="round" stroke-linejoin="round"/>
<line x1="73.89" y1="442.80" x2="176.76" y2="418.21" stroke="#727298" stroke-width="0.9"/>
<path d="M186.00,416.00 L177.23,420.15 Q175.30,418.56 176.30,416.26 Z" fill="#1212c8"/>
<ellipse cx="63.0" cy="445.4" rx="11.3" ry="9.8" fill="none" stroke="#56567a" stroke-width="1.0"/>
<path transform="translate(58.25,440.50)" d="M0,2.4 L2.8,0 L2.8,9.8" fill="none" stroke="#484894" stroke-width="1.15" stroke-linecap="round" stroke-linejoin="round"/><path transform="translate(62.35,440.50)" d="M0.2,2.4 C0.4,0.8 1.4,0 2.7,0 C4.2,0 5.2,1 5.2,2.6 C5.2,4 4.4,5 3.3,6.2 L0,9.8 L5.4,9.8" fill="none" stroke="#484894" stroke-width="1.15" stroke-linecap="round" stroke-linejoin="round"/>
<line x1="469.90" y1="434.41" x2="426.50" y2="434.07" stroke="#727298" stroke-width="0.9"/>
<path d="M417.00,434.00 L426.52,432.07 Q428.00,434.09 426.48,436.07 Z" fill="#1212c8"/>
<ellipse cx="481.2" cy="434.5" rx="11.3" ry="9.8" fill="none" stroke="#56567a" stroke-width="1.0"/>
<path transform="translate(476.45,429.60)" d="M0,2.4 L2.8,0 L2.8,9.8" fill="none" stroke="#484894" stroke-width="1.15" stroke-linecap="round" stroke-linejoin="round"/><path transform="translate(480.55,429.60)" d="M0.3,1.2 C0.9,0.4 1.8,0 2.7,0 C4.2,0 5.1,1 5.1,2.4 C5.1,3.8 4.1,4.7 2.4,4.7 C4.3,4.7 5.4,5.7 5.4,7.2 C5.4,8.8 4.2,9.8 2.7,9.8 C1.6,9.8 0.7,9.3 0,8.4" fill="none" stroke="#484894" stroke-width="1.15" stroke-linecap="round" stroke-linejoin="round"/>
<line x1="335.55" y1="448.17" x2="289.14" y2="435.08" stroke="#727298" stroke-width="0.9"/>
<path d="M280.00,432.50 L289.69,433.15 Q290.59,435.49 288.60,437.00 Z" fill="#1212c8"/>
<ellipse cx="346.3" cy="451.2" rx="11.3" ry="9.8" fill="none" stroke="#56567a" stroke-width="1.0"/>
<path transform="translate(343.50,446.30)" d="M4.1,9.8 L4.1,0 L0,6.9 L5.6,6.9" fill="none" stroke="#484894" stroke-width="1.15" stroke-linecap="round" stroke-linejoin="round"/>
<line x1="295.24" y1="458.74" x2="229.28" y2="438.58" stroke="#727298" stroke-width="0.9"/>
<path d="M220.20,435.80 L229.87,436.66 Q230.72,439.02 228.70,440.49 Z" fill="#1212c8"/>
<ellipse cx="305.9" cy="462.0" rx="11.3" ry="9.8" fill="none" stroke="#56567a" stroke-width="1.0"/>
<path transform="translate(304.50,457.10)" d="M0,2.4 L2.8,0 L2.8,9.8" fill="none" stroke="#484894" stroke-width="1.15" stroke-linecap="round" stroke-linejoin="round"/>
<line x1="586.48" y1="410.56" x2="580.76" y2="394.92" stroke="#727298" stroke-width="0.9"/>
<path d="M577.50,386.00 L582.64,394.23 Q581.28,396.33 578.89,395.61 Z" fill="#1212c8"/>
<ellipse cx="589.9" cy="419.9" rx="11.3" ry="9.8" fill="none" stroke="#56567a" stroke-width="1.0"/>
<path transform="translate(583.85,415.00)" d="M0.2,2.4 C0.4,0.8 1.4,0 2.7,0 C4.2,0 5.2,1 5.2,2.6 C5.2,4 4.4,5 3.3,6.2 L0,9.8 L5.4,9.8" fill="none" stroke="#484894" stroke-width="1.15" stroke-linecap="round" stroke-linejoin="round"/><path transform="translate(590.55,415.00)" d="M0.3,1.2 C0.9,0.4 1.8,0 2.7,0 C4.2,0 5.1,1 5.1,2.4 C5.1,3.8 4.1,4.7 2.4,4.7 C4.3,4.7 5.4,5.7 5.4,7.2 C5.4,8.8 4.2,9.8 2.7,9.8 C1.6,9.8 0.7,9.3 0,8.4" fill="none" stroke="#484894" stroke-width="1.15" stroke-linecap="round" stroke-linejoin="round"/>
<line x1="687.75" y1="461.78" x2="665.30" y2="468.70" stroke="#727298" stroke-width="0.9"/>
<circle cx="665.3" cy="468.7" r="3.4" fill="#1212c8"/>
<ellipse cx="698.4" cy="458.5" rx="11.3" ry="9.8" fill="none" stroke="#56567a" stroke-width="1.0"/>
<path transform="translate(694.95,453.60)" d="M0,2.4 L2.8,0 L2.8,9.8" fill="none" stroke="#484894" stroke-width="1.15" stroke-linecap="round" stroke-linejoin="round"/><path transform="translate(699.05,453.60)" d="M0,2.4 L2.8,0 L2.8,9.8" fill="none" stroke="#484894" stroke-width="1.15" stroke-linecap="round" stroke-linejoin="round"/>
<line x1="748.30" y1="453.89" x2="719.95" y2="487.26" stroke="#727298" stroke-width="0.9"/>
<path d="M713.80,494.50 L718.43,485.96 Q720.92,486.12 721.47,488.55 Z" fill="#1212c8"/>
<ellipse cx="755.0" cy="446.0" rx="11.3" ry="9.8" fill="none" stroke="#56567a" stroke-width="1.0"/>
<path transform="translate(752.30,441.10)" d="M0,0 L5.4,0 C3.5,2.5 2.3,6 2,9.8" fill="none" stroke="#484894" stroke-width="1.15" stroke-linecap="round" stroke-linejoin="round"/>
<line x1="78.47" y1="468.31" x2="137.68" y2="453.68" stroke="#727298" stroke-width="0.9"/>
<path d="M146.90,451.40 L138.16,455.62 Q136.22,454.04 137.20,451.74 Z" fill="#1212c8"/>
<ellipse cx="67.6" cy="471.0" rx="11.3" ry="9.8" fill="none" stroke="#56567a" stroke-width="1.0"/>
<path transform="translate(62.85,466.10)" d="M0,2.4 L2.8,0 L2.8,9.8" fill="none" stroke="#484894" stroke-width="1.15" stroke-linecap="round" stroke-linejoin="round"/><path transform="translate(66.95,466.10)" d="M2.7,0 C0.5,0 0,2.5 0,4.9 C0,7.3 0.5,9.8 2.7,9.8 C4.9,9.8 5.4,7.3 5.4,4.9 C5.4,2.5 4.9,0 2.7,0 Z" fill="none" stroke="#484894" stroke-width="1.15" stroke-linecap="round" stroke-linejoin="round"/>
<line x1="142.48" y1="482.17" x2="192.83" y2="468.49" stroke="#727298" stroke-width="0.9"/>
<path d="M202.00,466.00 L193.36,470.42 Q191.38,468.88 192.31,466.56 Z" fill="#1212c8"/>
<ellipse cx="131.7" cy="485.1" rx="11.3" ry="9.8" fill="none" stroke="#56567a" stroke-width="1.0"/>
<path transform="translate(126.95,480.20)" d="M0,2.4 L2.8,0 L2.8,9.8" fill="none" stroke="#484894" stroke-width="1.15" stroke-linecap="round" stroke-linejoin="round"/><path transform="translate(131.05,480.20)" d="M2.7,4.6 C1.2,4.6 0.4,3.7 0.4,2.3 C0.4,0.9 1.3,0 2.7,0 C4.1,0 5,0.9 5,2.3 C5,3.7 4.2,4.6 2.7,4.6 C1,4.6 0,5.6 0,7.2 C0,8.8 1.1,9.8 2.7,9.8 C4.3,9.8 5.4,8.8 5.4,7.2 C5.4,5.6 4.4,4.6 2.7,4.6 Z" fill="none" stroke="#484894" stroke-width="1.15" stroke-linecap="round" stroke-linejoin="round"/>
<line x1="448.18" y1="490.21" x2="449.14" y2="491.83" stroke="#727298" stroke-width="0.9"/>
<path d="M454.00,500.00 L447.43,492.86 Q448.38,490.55 450.86,490.81 Z" fill="#1212c8"/>
<ellipse cx="443.0" cy="481.5" rx="11.3" ry="9.8" fill="none" stroke="#56567a" stroke-width="1.0"/>
<path transform="translate(436.95,476.60)" d="M0.2,2.4 C0.4,0.8 1.4,0 2.7,0 C4.2,0 5.2,1 5.2,2.6 C5.2,4 4.4,5 3.3,6.2 L0,9.8 L5.4,9.8" fill="none" stroke="#484894" stroke-width="1.15" stroke-linecap="round" stroke-linejoin="round"/><path transform="translate(443.65,476.60)" d="M2.7,0 C0.5,0 0,2.5 0,4.9 C0,7.3 0.5,9.8 2.7,9.8 C4.9,9.8 5.4,7.3 5.4,4.9 C5.4,2.5 4.9,0 2.7,0 Z" fill="none" stroke="#484894" stroke-width="1.15" stroke-linecap="round" stroke-linejoin="round"/>
<line x1="480.77" y1="490.33" x2="489.04" y2="500.60" stroke="#727298" stroke-width="0.9"/>
<path d="M495.00,508.00 L487.48,501.86 Q488.10,499.43 490.60,499.35 Z" fill="#1212c8"/>
<ellipse cx="474.3" cy="482.3" rx="11.3" ry="9.8" fill="none" stroke="#56567a" stroke-width="1.0"/>
<path transform="translate(469.55,477.40)" d="M0,2.4 L2.8,0 L2.8,9.8" fill="none" stroke="#484894" stroke-width="1.15" stroke-linecap="round" stroke-linejoin="round"/><path transform="translate(473.65,477.40)" d="M4.9,1 C4.4,0.3 3.6,0 2.8,0 C1,0 0,1.8 0,5 L0,6.6 C0,8.6 1.1,9.8 2.7,9.8 C4.3,9.8 5.4,8.6 5.4,6.8 C5.4,5 4.3,3.9 2.7,3.9 C1.5,3.9 0.5,4.6 0,5.6" fill="none" stroke="#484894" stroke-width="1.15" stroke-linecap="round" stroke-linejoin="round"/>
<line x1="513.70" y1="488.42" x2="526.82" y2="499.78" stroke="#727298" stroke-width="0.9"/>
<path d="M534.00,506.00 L525.51,501.29 Q525.68,498.80 528.13,498.27 Z" fill="#1212c8"/>
<ellipse cx="505.7" cy="481.5" rx="11.3" ry="9.8" fill="none" stroke="#56567a" stroke-width="1.0"/>
<path transform="translate(500.95,476.60)" d="M0.2,2.4 C0.4,0.8 1.4,0 2.7,0 C4.2,0 5.2,1 5.2,2.6 C5.2,4 4.4,5 3.3,6.2 L0,9.8 L5.4,9.8" fill="none" stroke="#484894" stroke-width="1.15" stroke-linecap="round" stroke-linejoin="round"/><path transform="translate(507.65,476.60)" d="M0,2.4 L2.8,0 L2.8,9.8" fill="none" stroke="#484894" stroke-width="1.15" stroke-linecap="round" stroke-linejoin="round"/>
<line x1="410.19" y1="508.23" x2="415.00" y2="542.00" stroke="#727298" stroke-width="0.9"/>
<circle cx="415" cy="542" r="3.4" fill="#1212c8"/>
<ellipse cx="408.8" cy="498.5" rx="11.3" ry="9.8" fill="none" stroke="#56567a" stroke-width="1.0"/>
<path transform="translate(404.05,493.60)" d="M0.2,2.4 C0.4,0.8 1.4,0 2.7,0 C4.2,0 5.2,1 5.2,2.6 C5.2,4 4.4,5 3.3,6.2 L0,9.8 L5.4,9.8" fill="none" stroke="#484894" stroke-width="1.15" stroke-linecap="round" stroke-linejoin="round"/><path transform="translate(410.75,493.60)" d="M0,2.4 L2.8,0 L2.8,9.8" fill="none" stroke="#484894" stroke-width="1.15" stroke-linecap="round" stroke-linejoin="round"/>
<line x1="751.94" y1="485.21" x2="746.68" y2="497.74" stroke="#727298" stroke-width="0.9"/>
<path d="M743.00,506.50 L744.83,496.97 Q747.26,496.36 748.52,498.51 Z" fill="#1212c8"/>
<ellipse cx="755.8" cy="476.0" rx="11.3" ry="9.8" fill="none" stroke="#56567a" stroke-width="1.0"/>
<path transform="translate(750.95,471.10)" d="M0,2.4 L2.8,0 L2.8,9.8" fill="none" stroke="#484894" stroke-width="1.15" stroke-linecap="round" stroke-linejoin="round"/><path transform="translate(755.05,471.10)" d="M4.1,9.8 L4.1,0 L0,6.9 L5.6,6.9" fill="none" stroke="#484894" stroke-width="1.15" stroke-linecap="round" stroke-linejoin="round"/>
<line x1="760.56" y1="514.25" x2="760.67" y2="513.69" stroke="#727298" stroke-width="0.9"/>
<path d="M758.80,523.00 L758.71,513.29 Q760.97,512.22 762.63,514.08 Z" fill="#1212c8"/>
<ellipse cx="762.5" cy="504.6" rx="11.3" ry="9.8" fill="none" stroke="#56567a" stroke-width="1.0"/>
<path transform="translate(757.65,499.70)" d="M0,2.4 L2.8,0 L2.8,9.8" fill="none" stroke="#484894" stroke-width="1.15" stroke-linecap="round" stroke-linejoin="round"/><path transform="translate(761.75,499.70)" d="M4.1,9.8 L4.1,0 L0,6.9 L5.6,6.9" fill="none" stroke="#484894" stroke-width="1.15" stroke-linecap="round" stroke-linejoin="round"/>
<line x1="150.35" y1="515.88" x2="168.15" y2="510.87" stroke="#727298" stroke-width="0.9"/>
<path d="M177.30,508.30 L168.70,512.80 Q166.71,511.28 167.61,508.95 Z" fill="#1212c8"/>
<ellipse cx="139.6" cy="518.9" rx="11.3" ry="9.8" fill="none" stroke="#56567a" stroke-width="1.0"/>
<path transform="translate(133.55,514.00)" d="M0.2,2.4 C0.4,0.8 1.4,0 2.7,0 C4.2,0 5.2,1 5.2,2.6 C5.2,4 4.4,5 3.3,6.2 L0,9.8 L5.4,9.8" fill="none" stroke="#484894" stroke-width="1.15" stroke-linecap="round" stroke-linejoin="round"/><path transform="translate(140.25,514.00)" d="M0.2,2.4 C0.4,0.8 1.4,0 2.7,0 C4.2,0 5.2,1 5.2,2.6 C5.2,4 4.4,5 3.3,6.2 L0,9.8 L5.4,9.8" fill="none" stroke="#484894" stroke-width="1.15" stroke-linecap="round" stroke-linejoin="round"/>
<line x1="243.09" y1="501.58" x2="234.02" y2="485.30" stroke="#727298" stroke-width="0.9"/>
<path d="M229.40,477.00 L235.77,484.33 Q234.75,486.61 232.27,486.27 Z" fill="#1212c8"/>
<ellipse cx="248.0" cy="510.4" rx="11.3" ry="9.8" fill="none" stroke="#56567a" stroke-width="1.0"/>
<path transform="translate(241.95,505.50)" d="M0.2,2.4 C0.4,0.8 1.4,0 2.7,0 C4.2,0 5.2,1 5.2,2.6 C5.2,4 4.4,5 3.3,6.2 L0,9.8 L5.4,9.8" fill="none" stroke="#484894" stroke-width="1.15" stroke-linecap="round" stroke-linejoin="round"/><path transform="translate(248.65,505.50)" d="M0.3,1.2 C0.9,0.4 1.8,0 2.7,0 C4.2,0 5.1,1 5.1,2.4 C5.1,3.8 4.1,4.7 2.4,4.7 C4.3,4.7 5.4,5.7 5.4,7.2 C5.4,8.8 4.2,9.8 2.7,9.8 C1.6,9.8 0.7,9.3 0,8.4" fill="none" stroke="#484894" stroke-width="1.15" stroke-linecap="round" stroke-linejoin="round"/>
<line x1="80.93" y1="542.62" x2="103.04" y2="540.51" stroke="#727298" stroke-width="0.9"/>
<path d="M112.50,539.60 L103.23,542.50 Q101.55,540.65 102.85,538.52 Z" fill="#1212c8"/>
<ellipse cx="69.7" cy="543.7" rx="11.3" ry="9.8" fill="none" stroke="#56567a" stroke-width="1.0"/>
<path transform="translate(67.00,538.80)" d="M5,0 L1,0 L0.5,4.4 C1.2,3.9 1.9,3.7 2.7,3.7 C4.3,3.7 5.4,4.9 5.4,6.7 C5.4,8.6 4.2,9.8 2.6,9.8 C1.5,9.8 0.6,9.3 0,8.5" fill="none" stroke="#484894" stroke-width="1.15" stroke-linecap="round" stroke-linejoin="round"/>
<line x1="661.12" y1="539.50" x2="683.87" y2="532.94" stroke="#727298" stroke-width="0.9"/>
<path d="M693.00,530.30 L684.43,534.86 Q682.43,533.35 683.32,531.01 Z" fill="#1212c8"/>
<ellipse cx="650.4" cy="542.6" rx="11.3" ry="9.8" fill="none" stroke="#56567a" stroke-width="1.0"/>
<path transform="translate(645.65,537.70)" d="M0,2.4 L2.8,0 L2.8,9.8" fill="none" stroke="#484894" stroke-width="1.15" stroke-linecap="round" stroke-linejoin="round"/><path transform="translate(649.75,537.70)" d="M5,0 L1,0 L0.5,4.4 C1.2,3.9 1.9,3.7 2.7,3.7 C4.3,3.7 5.4,4.9 5.4,6.7 C5.4,8.6 4.2,9.8 2.6,9.8 C1.5,9.8 0.6,9.3 0,8.5" fill="none" stroke="#484894" stroke-width="1.15" stroke-linecap="round" stroke-linejoin="round"/>
<line x1="234.96" y1="562.83" x2="262.40" y2="566.60" stroke="#727298" stroke-width="0.9"/>
<circle cx="262.4" cy="566.6" r="3.4" fill="#1212c8"/>
<ellipse cx="223.8" cy="561.3" rx="11.3" ry="9.8" fill="none" stroke="#56567a" stroke-width="1.0"/>
<path transform="translate(220.35,556.40)" d="M0,2.4 L2.8,0 L2.8,9.8" fill="none" stroke="#484894" stroke-width="1.15" stroke-linecap="round" stroke-linejoin="round"/><path transform="translate(224.45,556.40)" d="M0,2.4 L2.8,0 L2.8,9.8" fill="none" stroke="#484894" stroke-width="1.15" stroke-linecap="round" stroke-linejoin="round"/>
<line x1="193.98" y1="590.39" x2="292.31" y2="595.51" stroke="#727298" stroke-width="0.9"/>
<path d="M301.80,596.00 L292.21,597.50 Q290.81,595.43 292.42,593.51 Z" fill="#1212c8"/>
<ellipse cx="182.7" cy="589.8" rx="11.3" ry="9.8" fill="none" stroke="#56567a" stroke-width="1.0"/>
<path transform="translate(180.00,584.90)" d="M0,0 L5.4,0 C3.5,2.5 2.3,6 2,9.8" fill="none" stroke="#484894" stroke-width="1.15" stroke-linecap="round" stroke-linejoin="round"/>
<line x1="437.67" y1="594.12" x2="395.63" y2="602.21" stroke="#727298" stroke-width="0.9"/>
<path d="M386.30,604.00 L395.25,600.24 Q397.10,601.92 396.01,604.17 Z" fill="#1212c8"/>
<ellipse cx="448.7" cy="592.0" rx="11.3" ry="9.8" fill="none" stroke="#56567a" stroke-width="1.0"/>
<path transform="translate(443.95,587.10)" d="M0,2.4 L2.8,0 L2.8,9.8" fill="none" stroke="#484894" stroke-width="1.15" stroke-linecap="round" stroke-linejoin="round"/><path transform="translate(448.05,587.10)" d="M5,0 L1,0 L0.5,4.4 C1.2,3.9 1.9,3.7 2.7,3.7 C4.3,3.7 5.4,4.9 5.4,6.7 C5.4,8.6 4.2,9.8 2.6,9.8 C1.5,9.8 0.6,9.3 0,8.5" fill="none" stroke="#484894" stroke-width="1.15" stroke-linecap="round" stroke-linejoin="round"/>
<line x1="569.60" y1="601.54" x2="512.45" y2="567.37" stroke="#727298" stroke-width="0.9"/>
<path d="M504.30,562.50 L513.48,565.66 Q513.74,568.14 511.43,569.09 Z" fill="#1212c8"/>
<ellipse cx="578.9" cy="607.1" rx="11.3" ry="9.8" fill="none" stroke="#56567a" stroke-width="1.0"/>
<path transform="translate(576.20,602.20)" d="M0.3,1.2 C0.9,0.4 1.8,0 2.7,0 C4.2,0 5.1,1 5.1,2.4 C5.1,3.8 4.1,4.7 2.4,4.7 C4.3,4.7 5.4,5.7 5.4,7.2 C5.4,8.8 4.2,9.8 2.7,9.8 C1.6,9.8 0.7,9.3 0,8.4" fill="none" stroke="#484894" stroke-width="1.15" stroke-linecap="round" stroke-linejoin="round"/>
<line x1="675.38" y1="596.90" x2="639.95" y2="573.70" stroke="#727298" stroke-width="0.9"/>
<path d="M632.00,568.50 L641.04,572.03 Q641.20,574.52 638.85,575.38 Z" fill="#1212c8"/>
<ellipse cx="684.4" cy="602.8" rx="11.3" ry="9.8" fill="none" stroke="#56567a" stroke-width="1.0"/>
<path transform="translate(679.65,597.90)" d="M0,2.4 L2.8,0 L2.8,9.8" fill="none" stroke="#484894" stroke-width="1.15" stroke-linecap="round" stroke-linejoin="round"/><path transform="translate(683.75,597.90)" d="M0,0 L5.4,0 C3.5,2.5 2.3,6 2,9.8" fill="none" stroke="#484894" stroke-width="1.15" stroke-linecap="round" stroke-linejoin="round"/>
<line x1="194.85" y1="615.92" x2="272.03" y2="622.23" stroke="#727298" stroke-width="0.9"/>
<path d="M281.50,623.00 L271.87,624.22 Q270.54,622.10 272.19,620.23 Z" fill="#1212c8"/>
<ellipse cx="183.6" cy="615.0" rx="11.3" ry="9.8" fill="none" stroke="#56567a" stroke-width="1.0"/>
<path transform="translate(178.75,610.10)" d="M0,2.4 L2.8,0 L2.8,9.8" fill="none" stroke="#484894" stroke-width="1.15" stroke-linecap="round" stroke-linejoin="round"/><path transform="translate(182.85,610.10)" d="M4.1,9.8 L4.1,0 L0,6.9 L5.6,6.9" fill="none" stroke="#484894" stroke-width="1.15" stroke-linecap="round" stroke-linejoin="round"/>
<line x1="194.30" y1="640.45" x2="294.50" y2="640.04" stroke="#727298" stroke-width="0.9"/>
<path d="M304.00,640.00 L294.51,642.04 Q293.00,640.05 294.49,638.04 Z" fill="#1212c8"/>
<ellipse cx="183.0" cy="640.5" rx="11.3" ry="9.8" fill="none" stroke="#56567a" stroke-width="1.0"/>
<path transform="translate(178.15,635.60)" d="M0,2.4 L2.8,0 L2.8,9.8" fill="none" stroke="#484894" stroke-width="1.15" stroke-linecap="round" stroke-linejoin="round"/><path transform="translate(182.25,635.60)" d="M4.1,9.8 L4.1,0 L0,6.9 L5.6,6.9" fill="none" stroke="#484894" stroke-width="1.15" stroke-linecap="round" stroke-linejoin="round"/>
<line x1="494.19" y1="640.58" x2="455.23" y2="618.14" stroke="#727298" stroke-width="0.9"/>
<path d="M447.00,613.40 L456.23,616.41 Q456.53,618.89 454.23,619.87 Z" fill="#1212c8"/>
<ellipse cx="503.6" cy="646.0" rx="11.3" ry="9.8" fill="none" stroke="#56567a" stroke-width="1.0"/>
<path transform="translate(498.85,641.10)" d="M0,2.4 L2.8,0 L2.8,9.8" fill="none" stroke="#484894" stroke-width="1.15" stroke-linecap="round" stroke-linejoin="round"/><path transform="translate(502.95,641.10)" d="M0,0 L5.4,0 C3.5,2.5 2.3,6 2,9.8" fill="none" stroke="#484894" stroke-width="1.15" stroke-linecap="round" stroke-linejoin="round"/>
<line x1="56" y1="668.3" x2="745" y2="668.3" stroke="#4a4a4a" stroke-width="1.2"/>
</svg></body></html>
